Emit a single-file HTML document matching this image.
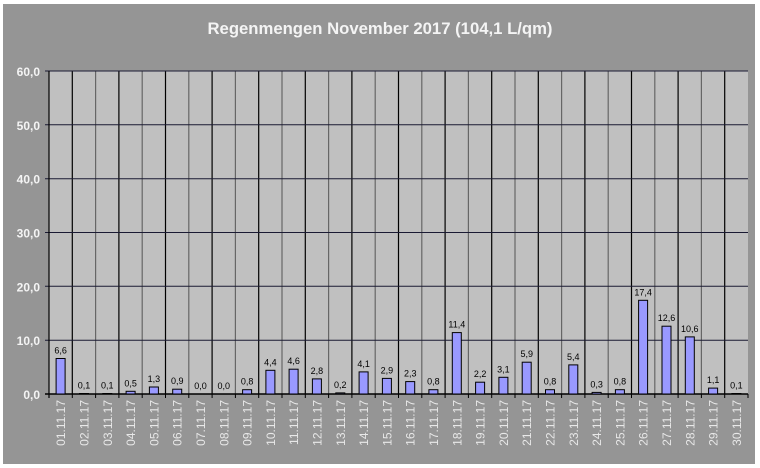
<!DOCTYPE html>
<html><head><meta charset="utf-8"><style>
html,body{margin:0;padding:0;background:#fff;}
svg{display:block;font-family:"Liberation Sans",Arial,sans-serif;}
</style></head><body>
<svg width="760" height="468" viewBox="0 0 760 468" xmlns="http://www.w3.org/2000/svg">
<rect x="0" y="0" width="760" height="468" fill="#fff"/>
<rect x="3" y="4" width="752" height="460" fill="#959595"/>
<text x="380" y="34" text-anchor="middle" font-size="16.7" font-weight="bold" fill="#f4f4f4">Regenmengen November 2017 (104,1 L/qm)</text>
<rect x="49" y="71" width="699" height="323" fill="#c0c0c0"/>
<g id="g"></g>
</svg>
<script>
const vals=[6.6,0.1,0.1,0.5,1.3,0.9,0.0,0.0,0.8,4.4,4.6,2.8,0.2,4.1,2.9,2.3,0.8,11.4,2.2,3.1,5.9,0.8,5.4,0.3,0.8,17.4,12.6,10.6,1.1,0.1];
const L=49,R=748,T=71,B=394,W=(R-L)/30,s=(B-T)/60;
let h='';
for(let k=1;k<30;k++){const x=(L+W*k).toFixed(1);h+=`<line x1="${x}" y1="${T}" x2="${x}" y2="${B}" stroke="${k%2?'#000':'#666'}" stroke-width="1.2"/>`;}
for(let v=10;v<=60;v+=10){const y=(B-v*s).toFixed(1);h+=`<line x1="${L-4}" y1="${y}" x2="${R}" y2="${y}" stroke="#1a1a33" stroke-width="1"/>`;}
for(let v=0;v<=60;v+=10){const y=(B-v*s);h+=`<text x="40" y="${(y+5).toFixed(1)}" text-anchor="end" font-size="12" font-weight="bold" fill="#f4f4f4">${v.toFixed(1).replace('.',',')}</text>`;}
h+=`<line x1="${L}" y1="${T}" x2="${L}" y2="${B+4}" stroke="#000" stroke-width="1.2"/>`;
h+=`<line x1="${L-4}" y1="${B}" x2="${R}" y2="${B}" stroke="#000" stroke-width="1.5"/>`;
vals.forEach((v,i)=>{const c=L+W*(i+0.5);const bh=v*s;const x=(c-4.5).toFixed(1);
 if(bh>0.5)h+=`<rect x="${x}" y="${(B-bh).toFixed(1)}" width="9" height="${bh.toFixed(1)}" fill="#9999ff" stroke="#000" stroke-width="1"/>`;
 else if(v>0)h+=`<line x1="${x}" y1="${B-1}" x2="${(c+4.5).toFixed(1)}" y2="${B-1}" stroke="#000" stroke-width="1.5"/>`;
 h+=`<text x="${c.toFixed(1)}" y="${(B-bh-5).toFixed(1)}" text-anchor="middle" font-size="9" fill="#000">${v.toFixed(1).replace('.',',')}</text>`;
 const d=String(i+1).padStart(2,'0')+'.11.17';
 h+=`<line x1="${(L+W*(i+1)).toFixed(1)}" y1="${B}" x2="${(L+W*(i+1)).toFixed(1)}" y2="${B+4}" stroke="#000"/>`;
 h+=`<text transform="translate(${(c+4.5).toFixed(1)},400) rotate(-90)" text-anchor="end" font-size="12" fill="#e8e8e8">${d}</text>`;
});
document.getElementById('g').innerHTML=h;
</script>
</body></html>
